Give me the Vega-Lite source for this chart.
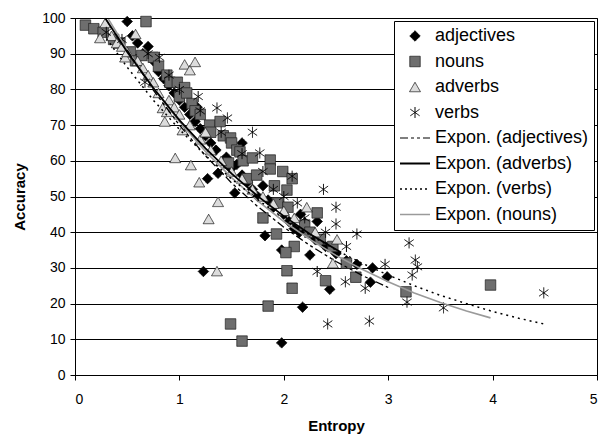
{
  "$schema": "https://vega.github.io/schema/vega-lite/v6.json",
  "width": 522,
  "height": 357,
  "autosize": {"type": "none"},
  "padding": {"left": 75, "top": 18, "right": 7, "bottom": 64},
  "background": "#ffffff",
  "config": {
    "font": "Liberation Sans",
    "view": {"stroke": "#000000", "strokeWidth": 1},
    "axis": {
      "labelFont": "Liberation Sans", "labelFontSize": 14, "labelColor": "#000000",
      "titleFont": "Liberation Sans", "titleFontSize": 15, "titleFontWeight": "bold", "titleColor": "#000000",
      "domainColor": "#000000", "tickColor": "#000000", "gridColor": "#000000", "gridOpacity": 1, "gridWidth": 1
    }
  },
  "datasets": {
    "pts": [
      {"series":"adjectives","entropy":0.5,"accuracy":99},{"series":"adjectives","entropy":0.55,"accuracy":95},{"series":"adjectives","entropy":0.6,"accuracy":93},{"series":"adjectives","entropy":0.65,"accuracy":90},{"series":"adjectives","entropy":0.7,"accuracy":92},{"series":"adjectives","entropy":0.75,"accuracy":88},{"series":"adjectives","entropy":0.8,"accuracy":85},{"series":"adjectives","entropy":0.85,"accuracy":83},{"series":"adjectives","entropy":0.9,"accuracy":81},{"series":"adjectives","entropy":0.95,"accuracy":79},{"series":"adjectives","entropy":1.0,"accuracy":77},{"series":"adjectives","entropy":1.05,"accuracy":75},{"series":"adjectives","entropy":1.1,"accuracy":73},{"series":"adjectives","entropy":1.17,"accuracy":75},{"series":"adjectives","entropy":1.15,"accuracy":71},{"series":"adjectives","entropy":1.2,"accuracy":69},{"series":"adjectives","entropy":1.25,"accuracy":67},{"series":"adjectives","entropy":1.3,"accuracy":65},{"series":"adjectives","entropy":1.35,"accuracy":63},{"series":"adjectives","entropy":1.45,"accuracy":61},{"series":"adjectives","entropy":1.5,"accuracy":58},{"series":"adjectives","entropy":1.55,"accuracy":59},{"series":"adjectives","entropy":1.6,"accuracy":65},{"series":"adjectives","entropy":1.6,"accuracy":56},{"series":"adjectives","entropy":1.65,"accuracy":54},{"series":"adjectives","entropy":1.7,"accuracy":52},{"series":"adjectives","entropy":1.75,"accuracy":50},{"series":"adjectives","entropy":1.8,"accuracy":53},{"series":"adjectives","entropy":1.85,"accuracy":49},{"series":"adjectives","entropy":1.9,"accuracy":47},{"series":"adjectives","entropy":2.0,"accuracy":45},{"series":"adjectives","entropy":2.05,"accuracy":43},{"series":"adjectives","entropy":2.1,"accuracy":41},{"series":"adjectives","entropy":2.15,"accuracy":40},{"series":"adjectives","entropy":2.16,"accuracy":45},{"series":"adjectives","entropy":2.2,"accuracy":42.6},{"series":"adjectives","entropy":2.32,"accuracy":43},{"series":"adjectives","entropy":2.3,"accuracy":38},{"series":"adjectives","entropy":2.4,"accuracy":36},{"series":"adjectives","entropy":2.5,"accuracy":34},{"series":"adjectives","entropy":2.6,"accuracy":32},{"series":"adjectives","entropy":2.7,"accuracy":31},{"series":"adjectives","entropy":1.27,"accuracy":55},{"series":"adjectives","entropy":1.37,"accuracy":56.5},{"series":"adjectives","entropy":1.53,"accuracy":51},{"series":"adjectives","entropy":1.23,"accuracy":29},{"series":"adjectives","entropy":2.18,"accuracy":19},{"series":"adjectives","entropy":1.98,"accuracy":9},{"series":"adjectives","entropy":1.82,"accuracy":39},{"series":"adjectives","entropy":1.98,"accuracy":35},{"series":"adjectives","entropy":2.25,"accuracy":33.6},{"series":"adjectives","entropy":2.44,"accuracy":24},{"series":"adjectives","entropy":2.85,"accuracy":30},{"series":"adjectives","entropy":2.99,"accuracy":27.5},{"series":"adjectives","entropy":2.83,"accuracy":26},
      {"series":"nouns","entropy":0.1,"accuracy":98},{"series":"nouns","entropy":0.18,"accuracy":97},{"series":"nouns","entropy":0.27,"accuracy":96},{"series":"nouns","entropy":0.37,"accuracy":94},{"series":"nouns","entropy":0.43,"accuracy":93},{"series":"nouns","entropy":0.53,"accuracy":90.5},{"series":"nouns","entropy":0.58,"accuracy":88},{"series":"nouns","entropy":0.64,"accuracy":89.5},{"series":"nouns","entropy":0.68,"accuracy":99},{"series":"nouns","entropy":0.75,"accuracy":89},{"series":"nouns","entropy":0.8,"accuracy":86.5},{"series":"nouns","entropy":0.88,"accuracy":84},{"series":"nouns","entropy":0.91,"accuracy":82},{"series":"nouns","entropy":0.98,"accuracy":82},{"series":"nouns","entropy":1.0,"accuracy":78},{"series":"nouns","entropy":1.05,"accuracy":80.5},{"series":"nouns","entropy":1.07,"accuracy":79},{"series":"nouns","entropy":1.12,"accuracy":76},{"series":"nouns","entropy":1.15,"accuracy":74},{"series":"nouns","entropy":1.2,"accuracy":73},{"series":"nouns","entropy":1.29,"accuracy":70},{"series":"nouns","entropy":1.3,"accuracy":68},{"series":"nouns","entropy":1.39,"accuracy":71},{"series":"nouns","entropy":1.42,"accuracy":67},{"series":"nouns","entropy":1.49,"accuracy":66.4},{"series":"nouns","entropy":1.5,"accuracy":65},{"series":"nouns","entropy":1.55,"accuracy":63},{"series":"nouns","entropy":1.58,"accuracy":62.5},{"series":"nouns","entropy":1.61,"accuracy":60},{"series":"nouns","entropy":1.47,"accuracy":59.4},{"series":"nouns","entropy":1.65,"accuracy":55},{"series":"nouns","entropy":1.7,"accuracy":60.8},{"series":"nouns","entropy":1.74,"accuracy":56},{"series":"nouns","entropy":1.87,"accuracy":60.2},{"series":"nouns","entropy":1.87,"accuracy":57.7},{"series":"nouns","entropy":1.99,"accuracy":57},{"series":"nouns","entropy":2.08,"accuracy":55},{"series":"nouns","entropy":1.91,"accuracy":53},{"series":"nouns","entropy":2.03,"accuracy":51.8},{"series":"nouns","entropy":1.94,"accuracy":48.2},{"series":"nouns","entropy":2.04,"accuracy":47},{"series":"nouns","entropy":2.32,"accuracy":45.4},{"series":"nouns","entropy":2.2,"accuracy":42},{"series":"nouns","entropy":2.25,"accuracy":40},{"series":"nouns","entropy":2.35,"accuracy":38},{"series":"nouns","entropy":2.47,"accuracy":36},{"series":"nouns","entropy":2.1,"accuracy":36},{"series":"nouns","entropy":1.8,"accuracy":44},{"series":"nouns","entropy":1.93,"accuracy":39.5},{"series":"nouns","entropy":2.02,"accuracy":34.3},{"series":"nouns","entropy":2.03,"accuracy":29.2},{"series":"nouns","entropy":2.08,"accuracy":24.3},{"series":"nouns","entropy":1.85,"accuracy":19.3},{"series":"nouns","entropy":1.49,"accuracy":14.3},{"series":"nouns","entropy":1.6,"accuracy":9.5},{"series":"nouns","entropy":2.4,"accuracy":26.4},{"series":"nouns","entropy":2.6,"accuracy":31.3},{"series":"nouns","entropy":2.69,"accuracy":27.4},{"series":"nouns","entropy":3.17,"accuracy":23.3},{"series":"nouns","entropy":3.98,"accuracy":25.2},
      {"series":"adverbs","entropy":0.24,"accuracy":94.4},{"series":"adverbs","entropy":0.29,"accuracy":98.6},{"series":"adverbs","entropy":0.35,"accuracy":95},{"series":"adverbs","entropy":0.4,"accuracy":93},{"series":"adverbs","entropy":0.45,"accuracy":92},{"series":"adverbs","entropy":0.48,"accuracy":89},{"series":"adverbs","entropy":0.5,"accuracy":90.5},{"series":"adverbs","entropy":0.58,"accuracy":95.5},{"series":"adverbs","entropy":0.6,"accuracy":88},{"series":"adverbs","entropy":0.65,"accuracy":86},{"series":"adverbs","entropy":0.7,"accuracy":84},{"series":"adverbs","entropy":0.75,"accuracy":82},{"series":"adverbs","entropy":0.8,"accuracy":79},{"series":"adverbs","entropy":0.84,"accuracy":74.8},{"series":"adverbs","entropy":0.88,"accuracy":73.7},{"series":"adverbs","entropy":0.86,"accuracy":71},{"series":"adverbs","entropy":0.9,"accuracy":77},{"series":"adverbs","entropy":0.95,"accuracy":75},{"series":"adverbs","entropy":0.96,"accuracy":60.8},{"series":"adverbs","entropy":1.0,"accuracy":73},{"series":"adverbs","entropy":1.03,"accuracy":68.6},{"series":"adverbs","entropy":1.05,"accuracy":87},{"series":"adverbs","entropy":1.1,"accuracy":85.4},{"series":"adverbs","entropy":1.15,"accuracy":87.7},{"series":"adverbs","entropy":1.1,"accuracy":70},{"series":"adverbs","entropy":1.11,"accuracy":58.8},{"series":"adverbs","entropy":1.19,"accuracy":54},{"series":"adverbs","entropy":1.2,"accuracy":66},{"series":"adverbs","entropy":1.25,"accuracy":68},{"series":"adverbs","entropy":1.28,"accuracy":43.7},{"series":"adverbs","entropy":1.3,"accuracy":63},{"series":"adverbs","entropy":1.36,"accuracy":29.1},{"series":"adverbs","entropy":1.37,"accuracy":48.5},{"series":"adverbs","entropy":1.4,"accuracy":60},{"series":"adverbs","entropy":1.5,"accuracy":57},{"series":"adverbs","entropy":1.6,"accuracy":55},{"series":"adverbs","entropy":1.7,"accuracy":52},{"series":"adverbs","entropy":1.8,"accuracy":50},{"series":"adverbs","entropy":1.9,"accuracy":48},{"series":"adverbs","entropy":2.0,"accuracy":46},{"series":"adverbs","entropy":2.1,"accuracy":44},{"series":"adverbs","entropy":2.22,"accuracy":47},{"series":"adverbs","entropy":2.3,"accuracy":40},{"series":"adverbs","entropy":2.47,"accuracy":31.3},{"series":"adverbs","entropy":2.51,"accuracy":38},
      {"series":"verbs","entropy":0.3,"accuracy":96},{"series":"verbs","entropy":0.45,"accuracy":94},{"series":"verbs","entropy":0.67,"accuracy":82},{"series":"verbs","entropy":0.7,"accuracy":90},{"series":"verbs","entropy":0.81,"accuracy":89},{"series":"verbs","entropy":0.9,"accuracy":84},{"series":"verbs","entropy":1.0,"accuracy":80},{"series":"verbs","entropy":1.18,"accuracy":78},{"series":"verbs","entropy":1.2,"accuracy":74},{"series":"verbs","entropy":1.36,"accuracy":74.8},{"series":"verbs","entropy":1.46,"accuracy":72},{"series":"verbs","entropy":1.4,"accuracy":68},{"series":"verbs","entropy":1.6,"accuracy":62},{"series":"verbs","entropy":1.7,"accuracy":68},{"series":"verbs","entropy":1.77,"accuracy":62.2},{"series":"verbs","entropy":1.8,"accuracy":57},{"series":"verbs","entropy":1.9,"accuracy":52},{"series":"verbs","entropy":2.0,"accuracy":50},{"series":"verbs","entropy":2.08,"accuracy":55.7},{"series":"verbs","entropy":2.13,"accuracy":48.2},{"series":"verbs","entropy":2.2,"accuracy":44},{"series":"verbs","entropy":2.38,"accuracy":52},{"series":"verbs","entropy":2.4,"accuracy":40},{"series":"verbs","entropy":2.5,"accuracy":47},{"series":"verbs","entropy":2.5,"accuracy":42.3},{"series":"verbs","entropy":2.6,"accuracy":36},{"series":"verbs","entropy":2.7,"accuracy":39.5},{"series":"verbs","entropy":3.2,"accuracy":37},{"series":"verbs","entropy":3.26,"accuracy":32.2},{"series":"verbs","entropy":3.28,"accuracy":30.3},{"series":"verbs","entropy":3.23,"accuracy":28},{"series":"verbs","entropy":2.97,"accuracy":31},{"series":"verbs","entropy":3.18,"accuracy":20.4},{"series":"verbs","entropy":3.53,"accuracy":18.8},{"series":"verbs","entropy":4.49,"accuracy":23},{"series":"verbs","entropy":2.42,"accuracy":14.3},{"series":"verbs","entropy":2.82,"accuracy":15.1},{"series":"verbs","entropy":2.32,"accuracy":29},{"series":"verbs","entropy":2.59,"accuracy":26.1},{"series":"verbs","entropy":2.78,"accuracy":24.3}
    ],
    "tr": [
      {"trend":"adverbs","entropy":0.29,"accuracy":99.9},{"trend":"adverbs","entropy":0.5,"accuracy":90.5},{"trend":"adverbs","entropy":0.75,"accuracy":80.4},{"trend":"adverbs","entropy":1.0,"accuracy":71.4},{"trend":"adverbs","entropy":1.25,"accuracy":63.5},{"trend":"adverbs","entropy":1.5,"accuracy":56.4},{"trend":"adverbs","entropy":1.75,"accuracy":50.1},{"trend":"adverbs","entropy":2.0,"accuracy":44.5},{"trend":"adverbs","entropy":2.25,"accuracy":39.5},{"trend":"adverbs","entropy":2.55,"accuracy":34.3},
      {"trend":"nouns","entropy":0.32,"accuracy":99.7},{"trend":"nouns","entropy":0.5,"accuracy":91.1},{"trend":"nouns","entropy":0.75,"accuracy":80.4},{"trend":"nouns","entropy":1.0,"accuracy":71.0},{"trend":"nouns","entropy":1.25,"accuracy":62.6},{"trend":"nouns","entropy":1.5,"accuracy":55.3},{"trend":"nouns","entropy":1.75,"accuracy":48.8},{"trend":"nouns","entropy":2.0,"accuracy":43.0},{"trend":"nouns","entropy":2.25,"accuracy":38.0},{"trend":"nouns","entropy":2.5,"accuracy":33.5},{"trend":"nouns","entropy":2.75,"accuracy":29.6},{"trend":"nouns","entropy":3.0,"accuracy":26.1},{"trend":"nouns","entropy":3.25,"accuracy":23.0},{"trend":"nouns","entropy":3.5,"accuracy":20.3},{"trend":"nouns","entropy":3.75,"accuracy":17.9},{"trend":"nouns","entropy":3.98,"accuracy":16.0},
      {"trend":"adjectives","entropy":0.5,"accuracy":91.0},{"trend":"adjectives","entropy":0.75,"accuracy":79.8},{"trend":"adjectives","entropy":1.0,"accuracy":70.0},{"trend":"adjectives","entropy":1.25,"accuracy":61.4},{"trend":"adjectives","entropy":1.5,"accuracy":53.8},{"trend":"adjectives","entropy":1.75,"accuracy":47.2},{"trend":"adjectives","entropy":2.0,"accuracy":41.4},{"trend":"adjectives","entropy":2.25,"accuracy":36.3},{"trend":"adjectives","entropy":2.5,"accuracy":31.8},{"trend":"adjectives","entropy":2.75,"accuracy":27.9},{"trend":"adjectives","entropy":3.0,"accuracy":24.5},
      {"trend":"verbs","entropy":0.3,"accuracy":94.3},{"trend":"verbs","entropy":0.5,"accuracy":86.2},{"trend":"verbs","entropy":0.75,"accuracy":77.0},{"trend":"verbs","entropy":1.0,"accuracy":68.8},{"trend":"verbs","entropy":1.25,"accuracy":61.5},{"trend":"verbs","entropy":1.5,"accuracy":54.9},{"trend":"verbs","entropy":1.75,"accuracy":49.1},{"trend":"verbs","entropy":2.0,"accuracy":43.9},{"trend":"verbs","entropy":2.25,"accuracy":39.2},{"trend":"verbs","entropy":2.5,"accuracy":35.0},{"trend":"verbs","entropy":2.75,"accuracy":31.3},{"trend":"verbs","entropy":3.0,"accuracy":28.0},{"trend":"verbs","entropy":3.25,"accuracy":25.0},{"trend":"verbs","entropy":3.5,"accuracy":22.3},{"trend":"verbs","entropy":3.75,"accuracy":20.0},{"trend":"verbs","entropy":4.0,"accuracy":17.8},{"trend":"verbs","entropy":4.25,"accuracy":15.9},{"trend":"verbs","entropy":4.49,"accuracy":14.3}
    ]
  },
  "encoding": {
    "x": {"field": "entropy", "type": "quantitative", "scale": {"domain": [0, 5], "nice": false},
      "axis": {"title": "Entropy", "values": [0,1,2,3,4,5], "format": "d", "grid": false, "tickSize": 5, "labelPadding": 12, "titlePadding": 12}},
    "y": {"field": "accuracy", "type": "quantitative", "scale": {"domain": [0, 100], "nice": false},
      "axis": {"title": "Accuracy", "values": [0,10,20,30,40,50,60,70,80,90,100], "grid": true, "tickSize": 5, "labelPadding": 5, "titlePadding": 14}}
  },
  "layer": [
    {
      "data": {"name": "pts"},
      "mark": {"type": "point", "filled": true, "opacity": 1},
      "encoding": {
        "shape": {
          "field": "series", "type": "nominal",
          "scale": {
            "domain": ["adjectives","nouns","adverbs","verbs","Expon. (adjectives)","Expon. (adverbs)","Expon. (verbs)","Expon. (nouns)"],
            "range": ["diamond","square","triangle-up","M0,-1L0,1M-0.85,-0.6L0.85,0.6M-0.85,0.6L0.85,-0.6","stroke","stroke","stroke","stroke"]
          },
          "legend": {
            "title": null,
            "orient": "none",
            "legendX": 319,
            "legendY": 3,
            "padding": 5,
            "rowPadding": 5.5,
            "clipHeight": 20,
            "labelOffset": 4,
            "labelFont": "Liberation Sans",
            "labelFontSize": 18,
            "labelColor": "#000000",
            "labelLimit": 300,
            "strokeColor": "#000000",
            "fillColor": "#ffffff",
            "cornerRadius": 0,
            "symbolOpacity": 1
          }
        },
        "fill": {
          "field": "series", "type": "nominal",
          "scale": {
            "domain": ["adjectives","nouns","adverbs","verbs","Expon. (adjectives)","Expon. (adverbs)","Expon. (verbs)","Expon. (nouns)"],
            "range": ["#000000","#6e6e6e","#dcdcdc","#000000","transparent","transparent","transparent","transparent"]
          }
        },
        "stroke": {
          "field": "series", "type": "nominal",
          "scale": {
            "domain": ["adjectives","nouns","adverbs","verbs","Expon. (adjectives)","Expon. (adverbs)","Expon. (verbs)","Expon. (nouns)"],
            "range": ["#000000","#222222","#222222","#000000","#000000","#000000","#000000","#9a9a9a"]
          }
        },
        "strokeWidth": {
          "field": "series", "type": "nominal",
          "scale": {
            "type": "ordinal",
            "domain": ["adjectives","nouns","adverbs","verbs","Expon. (adjectives)","Expon. (adverbs)","Expon. (verbs)","Expon. (nouns)"],
            "range": [0.8, 0.8, 0.8, 1, 1.2, 1.8, 1.4, 1.6]
          }
        },
        "strokeDash": {
          "field": "series", "type": "nominal",
          "scale": {
            "domain": ["adjectives","nouns","adverbs","verbs","Expon. (adjectives)","Expon. (adverbs)","Expon. (verbs)","Expon. (nouns)"],
            "range": [[1,0],[1,0],[1,0],[1,0],[8,3,3,3,3,3],[1,0],[2,3],[1,0]]
          }
        },
        "size": {
          "field": "series", "type": "nominal",
          "scale": {
            "type": "ordinal",
            "domain": ["adjectives","nouns","adverbs","verbs","Expon. (adjectives)","Expon. (adverbs)","Expon. (verbs)","Expon. (nouns)"],
            "range": [110, 110, 120, 120, 900, 900, 900, 900]
          }
        }
      }
    },
    {
      "data": {"name": "tr"},
      "transform": [{"filter": "datum.trend == 'nouns'"}],
      "mark": {"type": "line", "stroke": "#9a9a9a", "strokeWidth": 1.6},
      "encoding": {}
    },
    {
      "data": {"name": "tr"},
      "transform": [{"filter": "datum.trend == 'adverbs'"}],
      "mark": {"type": "line", "stroke": "#000000", "strokeWidth": 1.8},
      "encoding": {}
    },
    {
      "data": {"name": "tr"},
      "transform": [{"filter": "datum.trend == 'adjectives'"}],
      "mark": {"type": "line", "stroke": "#000000", "strokeWidth": 1.3, "strokeDash": [8, 3, 3, 3, 3, 3]},
      "encoding": {}
    },
    {
      "data": {"name": "tr"},
      "transform": [{"filter": "datum.trend == 'verbs'"}],
      "mark": {"type": "line", "stroke": "#000000", "strokeWidth": 1.5, "strokeDash": [2, 4]},
      "encoding": {}
    }
  ]
}
